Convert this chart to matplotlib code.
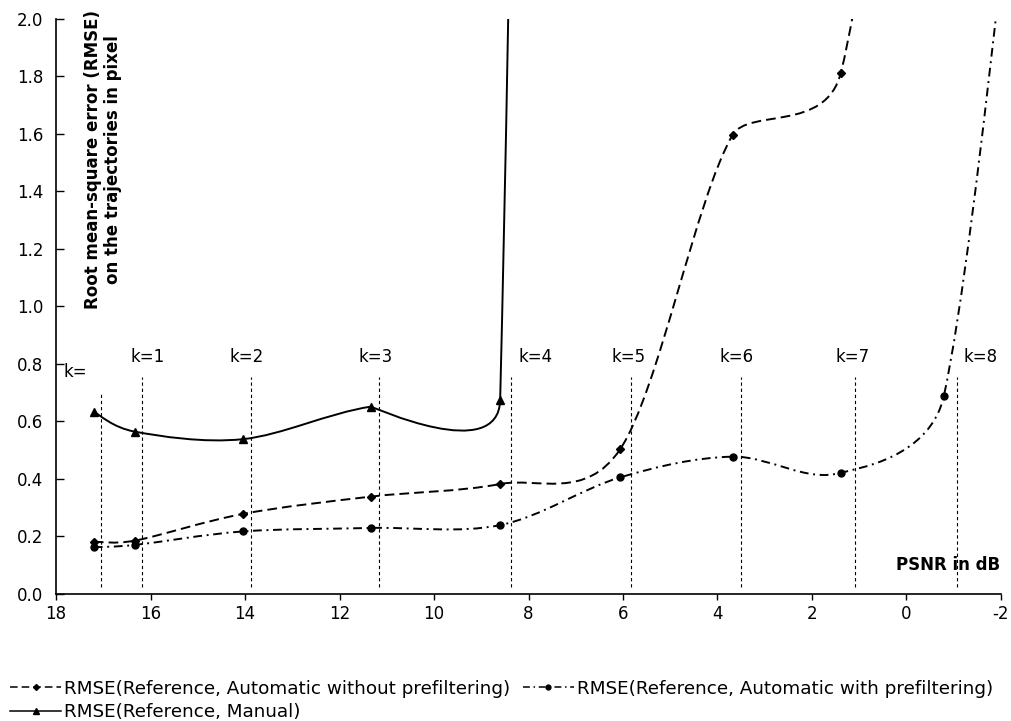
import numpy as np
import matplotlib
matplotlib.use('Agg')
import matplotlib.pyplot as plt
from matplotlib.path import Path
from matplotlib.patches import PathPatch
from matplotlib.lines import Line2D

# data
psnr = [17.20, 16.33, 14.04, 11.34, 8.60, 6.06, 3.68, 1.39, -0.79]
rmse_auto = [0.180, 0.184, 0.277, 0.337, 0.381, 0.502, 1.595, 1.811]
rmse_auto_pf = [0.161, 0.169, 0.216, 0.228, 0.238, 0.404, 0.476, 0.420, 0.687]
rmse_manual = [0.632, 0.563, 0.537, 0.650, 0.673]

# next points lie above the visible range (estimated)
auto_next = (-0.79, 4.5)
auto_pf_next = (-3.0, 3.7)
manual_next = (6.06, 36.0)

# k markers
k_names = ['k=', 'k=1', 'k=2', 'k=3', 'k=4', 'k=5', 'k=6', 'k=7', 'k=8']
k_line_x = [17.05, 16.19, 13.88, 11.16, 8.36, 5.83, 3.50, 1.10, -1.06]
k_line_top = [0.702, 0.754, 0.754, 0.754, 0.754, 0.754, 0.754, 0.754, 0.754]
k_label_x = [17.6, 16.07, 13.96, 11.23, 7.84, 5.89, 3.59, 1.14, -1.56]
k_label_y = [0.770, 0.823, 0.823, 0.823, 0.823, 0.823, 0.823, 0.823, 0.823]

labels = ['RMSE(Reference, Automatic without prefiltering)',
          'RMSE(Reference, Automatic with prefiltering)',
          'RMSE(Reference, Manual)']

plt.rcParams['font.family'] = ['DejaVu Sans']
plt.rcParams['axes.unicode_minus'] = False

fig = plt.figure(figsize=(10.11, 7.21), dpi=100)
ax = fig.add_axes([0.0554, 0.1768, 0.9347, 0.7975])
ax.set_xlim(18, -2)
ax.set_ylim(0, 2.0)


def smooth_path(xs, ys):
    # excel-like smoothed line, control points worked out in display space
    pts = ax.transData.transform(np.column_stack([xs, ys]))
    n = len(pts)
    verts = [pts[0]]
    codes = [Path.MOVETO]
    for i in range(n - 1):
        p0 = pts[i - 1] if i > 0 else pts[i]
        p1 = pts[i]
        p2 = pts[i + 1]
        p3 = pts[i + 2] if i + 2 < n else pts[i + 1]
        d12 = np.hypot(*(p2 - p1))
        d02 = np.hypot(*(p2 - p0))
        d13 = np.hypot(*(p3 - p1))
        f = 1.0 / 6
        if d02 / 6 > d12 / 2:
            f = min(f, d12 / 2 / d02)
        if d13 / 6 > d12 / 2:
            f = min(f, d12 / 2 / d13)
        verts += [p1 + (p2 - p0) * f, p2 - (p3 - p1) * f, p2]
        codes += [Path.CURVE4] * 3
    verts = ax.transData.inverted().transform(np.array(verts))
    return Path(verts, codes)


lw = 1.4
ls_auto = (0, (5, 2.6))
ls_pf = (0, (4.5, 2.4, 1.0, 2.4))

ax.add_patch(PathPatch(smooth_path(psnr[:len(rmse_auto)] + [auto_next[0]],
                                   rmse_auto + [auto_next[1]]),
                       fill=False, lw=lw, ls=ls_auto, ec='black'))
ax.add_patch(PathPatch(smooth_path(psnr + [auto_pf_next[0]],
                                   rmse_auto_pf + [auto_pf_next[1]]),
                       fill=False, lw=lw, ls=ls_pf, ec='black'))
ax.add_patch(PathPatch(smooth_path(psnr[:len(rmse_manual)] + [manual_next[0]],
                                   rmse_manual + [manual_next[1]]),
                       fill=False, lw=lw, ls='-', ec='black'))

ax.plot(psnr[:len(rmse_auto)], rmse_auto, ls='none', marker='D', ms=4, color='black')
ax.plot(psnr, rmse_auto_pf, ls='none', marker='o', ms=5, color='black')
ax.plot(psnr[:len(rmse_manual)], rmse_manual, ls='none', marker='^', ms=6, color='black')

ax.vlines(k_line_x, 0.024, k_line_top, colors='black', lw=0.8, linestyles=(0, (3, 2.5)))
for name, kx, ky in zip(k_names, k_label_x, k_label_y):
    ax.text(kx, ky, name, ha='center', va='center', fontsize=12)

ax.text(0.0497, 1.014, 'Root mean-square error (RMSE)\non the trajectories in pixel',
        transform=ax.transAxes, rotation=90, ha='center', va='top',
        multialignment='center', fontsize=12, fontweight='bold')
ax.text(0.999, 0.05, 'PSNR in dB', transform=ax.transAxes, ha='right', va='center',
        fontsize=12, fontweight='bold')

ax.set_xticks(np.arange(18, -3, -2))
ax.set_yticks(np.arange(0, 2.01, 0.2))
ax.set_yticklabels(['%.1f' % v for v in np.arange(0, 2.01, 0.2)])
ax.tick_params(axis='x', direction='out', length=4.5, width=1, pad=3.5, labelsize=12)
ax.tick_params(axis='y', direction='in', length=5.5, width=1, pad=9, labelsize=12)
for s in ['top', 'right']:
    ax.spines[s].set_visible(False)
for s in ['left', 'bottom']:
    ax.spines[s].set_linewidth(1.2)

handles = [
    Line2D([], [], color='black', lw=1.1, ls=ls_auto, marker='D', ms=3),
    Line2D([], [], color='black', lw=1.1, ls='-', marker='^', ms=4),
    Line2D([], [], color='black', lw=1.1, ls=ls_pf, marker='o', ms=3.5),
]
fig.legend(handles, [labels[0], labels[2], labels[1]], ncol=2, loc='upper left',
           bbox_to_anchor=(0.010, 0.057), frameon=False, handlelength=2.8,
           handletextpad=0.16, columnspacing=0.65, labelspacing=0.3, borderpad=0,
           borderaxespad=0, prop={'family': 'DejaVu Sans', 'size': 13.2})

fig.savefig('out.png', dpi=100)
